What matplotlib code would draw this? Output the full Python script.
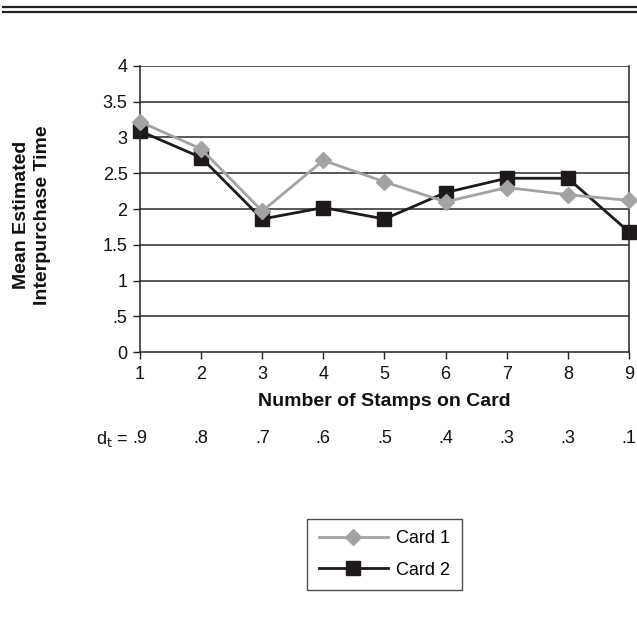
import numpy as np
import matplotlib
matplotlib.use("Agg")
from matplotlib import pyplot as plt
from matplotlib.lines import Line2D

plt.rcParams['font.family'] = ['Liberation Sans', 'DejaVu Sans']

# stamps on the card and the mean estimated interpurchase time per card
stamps = [1, 2, 3, 4, 5, 6, 7, 8, 9]
card1 = [3.22, 2.84, 1.97, 2.68, 2.38, 2.10, 2.30, 2.20, 2.12]
card2 = [3.09, 2.72, 1.86, 2.02, 1.86, 2.23, 2.43, 2.43, 1.68]
d_t = ['.9', '.8', '.7', '.6', '.5', '.4', '.3', '.3', '.1']
y_ticks = [0, 0.5, 1, 1.5, 2, 2.5, 3, 3.5, 4]
y_tick_labels = ['0', '.5', '1', '1.5', '2', '2.5', '3', '3.5', '4']

fs = 13
fig = plt.figure(figsize=(6.37, 6.32), dpi=100)
ax = fig.add_axes([0.2198, 0.443, 0.7676, 0.4526])

# horizontal gridlines
for y in y_ticks[1:]:
    ax.axhline(y, color='#2a2a2a', lw=1.1, zorder=1)

ax.plot(stamps, card1, color='#a3a3a3', lw=2, marker='D', markersize=8.5,
        markerfacecolor='#a3a3a3', markeredgecolor='#a3a3a3', label='Card 1',
        zorder=3, clip_on=False)
ax.plot(stamps, card2, color='#1e1a1b', lw=2, marker='s', markersize=10,
        markerfacecolor='#1e1a1b', markeredgecolor='#1e1a1b', label='Card 2',
        zorder=2, clip_on=False)

ax.set_xlim(1, 9)
ax.set_ylim(0, 4)
ax.set_xticks(stamps)
ax.set_yticks(y_ticks)
ax.set_yticklabels(y_tick_labels)
ax.tick_params(axis='both', direction='out', length=5, width=1, color='#222222',
               labelsize=fs, labelcolor='#111111')
ax.tick_params(axis='x', pad=5)
ax.tick_params(axis='y', pad=4)
ax.spines['top'].set_visible(False)
for side in ['left', 'right', 'bottom']:
    ax.spines[side].set_color('#222222')
    ax.spines[side].set_linewidth(1.1)

ax.set_xlabel('Number of Stamps on Card', fontsize=14, fontweight='bold',
              labelpad=7, color='#111111')

fig.text(0.05, 0.66, 'Mean Estimated\nInterpurchase Time', rotation=90,
         ha='center', va='center', fontsize=14, fontweight='bold',
         linespacing=1.35, color='#111111')

# discount row under the axis
trans = ax.get_xaxis_transform()
for x, lab in zip(stamps, d_t):
    ax.text(x, -0.304, lab, transform=trans, ha='center', va='center',
            fontsize=fs, color='#111111')
ax.text(stamps[0] - 0.19, -0.304, r'd$_\mathrm{t}$ =', transform=trans, ha='right',
        va='center', fontsize=fs, color='#111111')

leg = fig.legend(loc='center', bbox_to_anchor=(0.6036, 0.1226), frameon=True,
                 fancybox=False, edgecolor='#222222', fontsize=fs,
                 handlelength=3.8, borderpad=0.65, labelspacing=0.8,
                 handletextpad=0.45, borderaxespad=0)
leg.get_frame().set_linewidth(1.0)

# double rule across the top
fig.add_artist(Line2D([0.004, 1.0], [1 - 6.5 / 632, 1 - 6.5 / 632],
                      color='#222222', lw=1.6, transform=fig.transFigure))
fig.add_artist(Line2D([0.004, 1.0], [1 - 11.5 / 632, 1 - 11.5 / 632],
                      color='#222222', lw=1.6, transform=fig.transFigure))

fig.savefig('out.png', dpi=100, facecolor='white')
